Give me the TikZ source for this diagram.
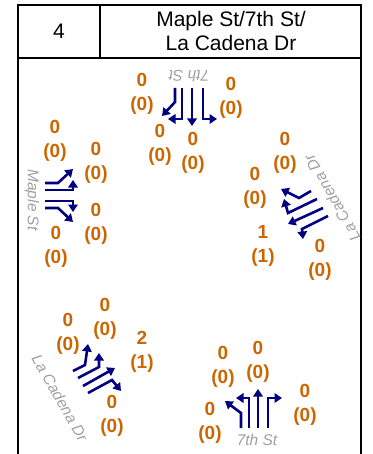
\documentclass[tikz,border=0pt]{standalone}
\usepackage{fontspec}
\setmainfont{Liberation Sans}
\usetikzlibrary{arrows.meta}
\definecolor{lanecol}{RGB}{0,0,128}
\definecolor{volcol}{RGB}{204,102,0}
\definecolor{streetcol}{RGB}{160,160,160}
\begin{document}
\begin{tikzpicture}[x=1pt,y=-1pt,
  frame/.style={line width=1.6pt},
  lane/.style={draw=lanecol,line width=2.6pt,-{Triangle[length=7.5pt,width=9.5pt]}},
  vol/.style={text=volcol,font=\fontsize{19}{23.5}\selectfont\bfseries,align=center,inner sep=0pt},
  street/.style={text=streetcol,font=\fontsize{15.5}{18}\selectfont\itshape,inner sep=0pt},
  title/.style={font=\fontsize{21}{24}\selectfont,align=center,inner sep=0pt}]
\useasboundingbox (0,0) rectangle (372,454);

% frame and header
\draw[frame] (18,5) rectangle (361,58);
\draw[frame] (100,5) -- (100,58);
\draw[frame] (18,58) -- (18,460);
\draw[frame] (361,58) -- (361,460);
\node[title] (num) at (59,31) {4};
\node[title] (hdr) at (231,31) {Maple St/7th St/\\La Cadena Dr};

% street names
\node[street,rotate=180] (sN) at (189,76) {7th St};
\node[street,rotate=-90] (sW) at (32,200) {Maple St};
\node[street,rotate=120] (sE) at (332,198) {La Cadena Dr};
\node[street,rotate=-60] (sSW) at (60,398) {La Cadena Dr};
\node[street] (sS) at (257,440) {7th St};

% north approach
\draw[lane] (175,88) -- (175,102) -- (162,116);
\draw[lane] (182,88) -- (182,119) -- (168,119);
\draw[lane] (192,88) -- (192,126);
\draw[lane] (203,88) -- (203,119) -- (217,119);
\node[vol] (n1) at (142,94) {0\\(0)};
\node[vol] (n2) at (231,98) {0\\(0)};
\node[vol] (n3) at (160,145) {0\\(0)};
\node[vol] (n4) at (193,153) {0\\(0)};

% west approach
\draw[lane] (45,183) -- (58,183) -- (73,169);
\draw[lane] (45,190) -- (73,190) -- (73,180);
\draw[lane] (45,201) -- (73,201) -- (73,212);
\draw[lane] (45,208) -- (58,208) -- (73,222);
\node[vol] (w1) at (55,141) {0\\(0)};
\node[vol] (w2) at (96,163) {0\\(0)};
\node[vol] (w3) at (96,224) {0\\(0)};
\node[vol] (w4) at (56,247) {0\\(0)};

% east approach
\draw[lane] (311,191) -- (299,198) -- (281,189);
\draw[lane] (317,199) -- (288,213) -- (284,199);
\draw[lane] (323,208) -- (288,224);
\draw[lane] (328,216) -- (302,229) -- (303,239);
\node[vol] (e1) at (285,153) {0\\(0)};
\node[vol] (e2) at (255,188) {0\\(0)};
\node[vol] (e3) at (263,246) {1\\(1)};
\node[vol] (e4) at (320,260) {0\\(0)};

% south-west approach
\draw[lane] (73,371) -- (85,365) -- (88,344);
\draw[lane] (78,378) -- (99,367) -- (99,353);
\draw[lane] (83,386) -- (115,368);
\draw[lane] (88,393) -- (112,380) -- (121,391);
\node[vol] (sw1) at (68,334) {0\\(0)};
\node[vol] (sw2) at (105,319) {0\\(0)};
\node[vol] (sw3) at (142,352) {2\\(1)};
\node[vol] (sw4) at (112,416) {0\\(0)};

% south approach
\draw[lane] (241,428) -- (241,413) -- (225,401);
\draw[lane] (249,428) -- (249,398) -- (236,398);
\draw[lane] (258,428) -- (258,389);
\draw[lane] (268,428) -- (268,398) -- (282,398);
\node[vol] (s1) at (223,367) {0\\(0)};
\node[vol] (s2) at (258,362) {0\\(0)};
\node[vol] (s3) at (305,405) {0\\(0)};
\node[vol] (s4) at (210,423) {0\\(0)};
\end{tikzpicture}
\end{document}
